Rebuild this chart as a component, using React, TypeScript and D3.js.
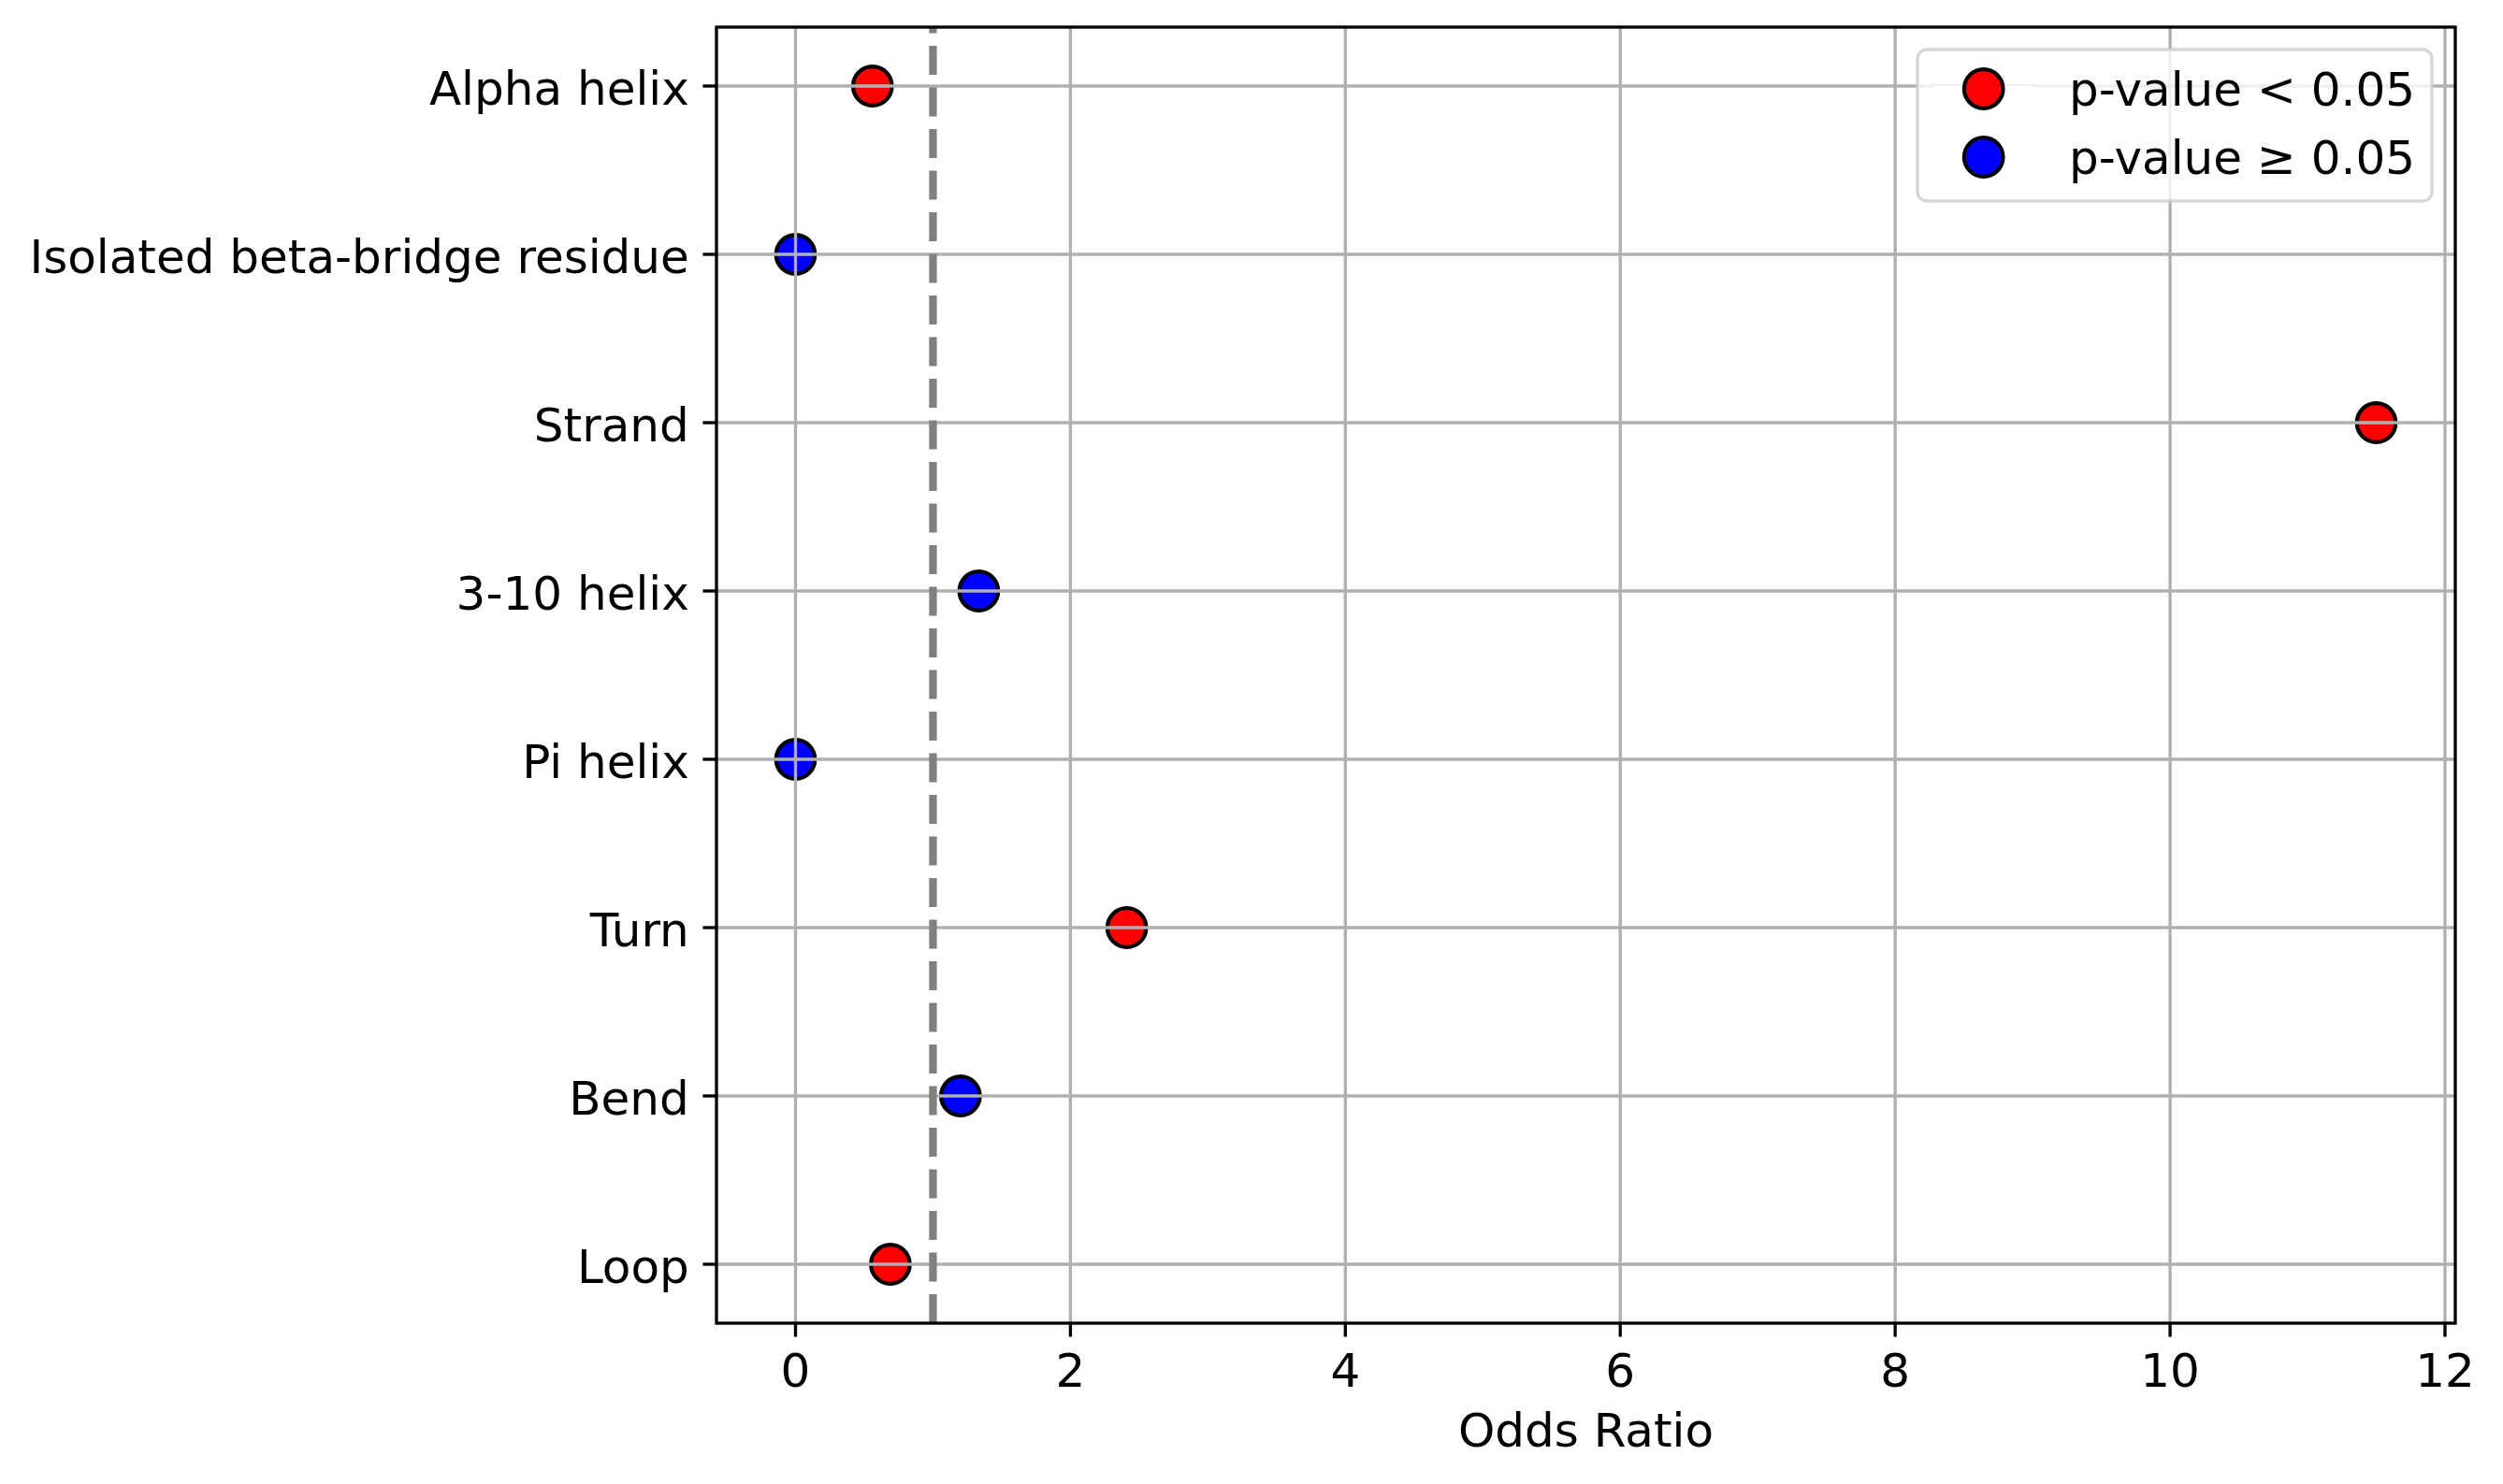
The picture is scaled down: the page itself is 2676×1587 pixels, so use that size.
import React, { useEffect } from "react";
import * as d3 from "d3";

const categories = [
  "Alpha helix",
  "Isolated beta-bridge residue",
  "Strand",
  "3-10 helix",
  "Pi helix",
  "Turn",
  "Bend",
  "Loop",
];
const oddsRatios = [0.56, 0, 11.5, 1.333, 0, 2.41, 1.2, 0.69];
const significant = [true, false, true, false, false, true, false, true];
const xTicks = [0, 2, 4, 6, 8, 10, 12];
const referenceLine = 1;
const legendLabels = ["p-value < 0.05", "p-value \u2265 0.05"];
const legendColors = ["#ff0000", "#0000ff"];
const xLabel = "Odds Ratio";

const W = 2676;
const H = 1587;
const M = { left: 766, right: 2625, top: 29, bottom: 1415 };
const FONT = "DejaVu Sans, Verdana, sans-serif";
const FS = 50;
const LW = 3.33;
const TICK = 14.6;

export default function App() {
  useEffect(() => {
    document.body.style.margin = "0";
  }, []);

  const xmin = 0;
  const xmax = d3.max(oddsRatios) as number;
  const pad = (xmax - xmin) * 0.05;
  const x = d3
    .scaleLinear()
    .domain([xmin - pad, xmax + pad])
    .range([M.left, M.right]);
  const y = d3
    .scalePoint<string>()
    .domain(categories)
    .range([M.top, M.bottom])
    .padding(0.35);

  const markerR = 20.8;
  const markerStroke = 4.17;

  const legend = { x0: 2050, y0: 53, x1: 2600, y1: 215 };
  const legendRows = [95, 168];
  const handleCx = 2120.7;
  const textX = 2212;

  return (
    <svg
      width={W}
      height={H}
      viewBox={`0 0 ${W} ${H}`}
      style={{ position: "absolute", left: 0, top: 0, background: "#fff" }}
      fontFamily={FONT}
    >
      <rect x={0} y={0} width={W} height={H} fill="#fff" />

      {/* scatter points (below grid, as in matplotlib) */}
      {categories.map((c, i) => (
        <circle
          key={c}
          cx={x(oddsRatios[i])}
          cy={y(c)}
          r={markerR}
          fill={significant[i] ? legendColors[0] : legendColors[1]}
          stroke="#000"
          strokeWidth={markerStroke}
        />
      ))}

      {/* grid */}
      {xTicks.map((t) => (
        <line
          key={"gx" + t}
          x1={x(t)}
          x2={x(t)}
          y1={M.top}
          y2={M.bottom}
          stroke="#b0b0b0"
          strokeWidth={LW}
        />
      ))}
      {categories.map((c) => (
        <line
          key={"gy" + c}
          x1={M.left}
          x2={M.right}
          y1={y(c)}
          y2={y(c)}
          stroke="#b0b0b0"
          strokeWidth={LW}
        />
      ))}

      {/* reference dashed line, drawn from bottom to top */}
      <line
        x1={x(referenceLine)}
        x2={x(referenceLine)}
        y1={M.bottom}
        y2={M.top}
        stroke="#808080"
        strokeWidth={8.3}
        strokeDasharray="31 13.5"
      />

      {/* spines */}
      <rect
        x={M.left}
        y={M.top}
        width={M.right - M.left}
        height={M.bottom - M.top}
        fill="none"
        stroke="#000"
        strokeWidth={LW}
      />

      {/* x ticks */}
      {xTicks.map((t) => (
        <g key={"xt" + t}>
          <line
            x1={x(t)}
            x2={x(t)}
            y1={M.bottom}
            y2={M.bottom + TICK}
            stroke="#000"
            strokeWidth={LW}
          />
          <text
            x={x(t)}
            y={1483}
            fontSize={FS}
            textAnchor="middle"
            fill="#000"
          >
            {t}
          </text>
        </g>
      ))}

      {/* y ticks */}
      {categories.map((c) => (
        <g key={"yt" + c}>
          <line
            x1={M.left - TICK}
            x2={M.left}
            y1={y(c)}
            y2={y(c)}
            stroke="#000"
            strokeWidth={LW}
          />
          <text
            x={M.left - TICK - 14.6}
            y={(y(c) as number) + 20}
            fontSize={FS}
            textAnchor="end"
            fill="#000"
          >
            {c}
          </text>
        </g>
      ))}

      {/* x label */}
      <text
        x={(M.left + M.right) / 2}
        y={1547}
        fontSize={FS}
        textAnchor="middle"
        fill="#000"
      >
        {xLabel}
      </text>

      {/* legend */}
      <rect
        x={legend.x0}
        y={legend.y0}
        width={legend.x1 - legend.x0}
        height={legend.y1 - legend.y0}
        rx={10}
        ry={10}
        fill="#fff"
        fillOpacity={0.8}
        stroke="#cccccc"
        strokeOpacity={0.8}
        strokeWidth={LW}
      />
      {legendLabels.map((lab, i) => (
        <g key={lab}>
          <line
            x1={handleCx - 50}
            x2={handleCx + 50}
            y1={legendRows[i]}
            y2={legendRows[i]}
            stroke="#fff"
            strokeWidth={6.25}
            strokeLinecap="square"
          />
          <circle
            cx={handleCx}
            cy={legendRows[i]}
            r={markerR}
            fill={legendColors[i]}
            stroke="#000"
            strokeWidth={markerStroke}
          />
          <text
            x={textX}
            y={legendRows[i] + 18}
            fontSize={FS}
            fill="#000"
          >
            {lab}
          </text>
        </g>
      ))}
    </svg>
  );
}
